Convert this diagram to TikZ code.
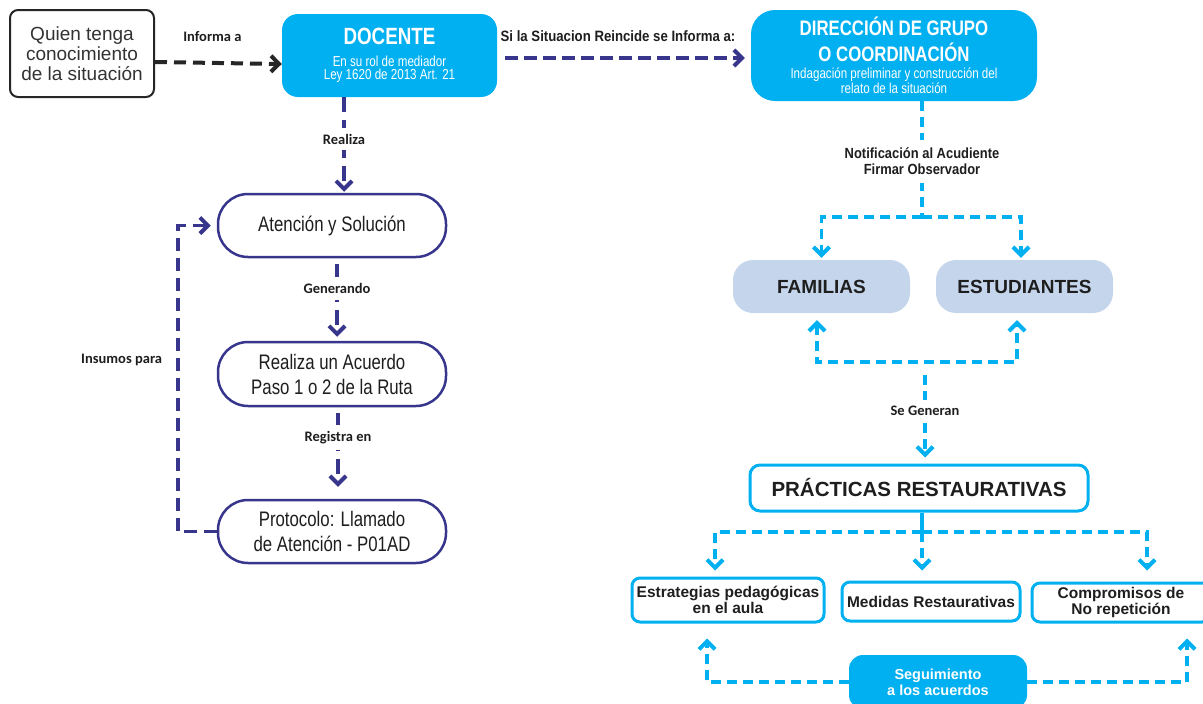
\documentclass[tikz,border=0pt]{standalone}
\usepackage{fontspec}
\setmainfont{Liberation Sans}
\newfontfamily\nar[FakeStretch=0.8]{Liberation Sans}
\newfontfamily\nlab[FakeStretch=0.88]{Liberation Sans}
\newfontfamily\carl{Carlito}
\usetikzlibrary{arrows.meta,calc}
\definecolor{cy}{RGB}{0,176,240}
\definecolor{ind}{RGB}{55,53,140}
\definecolor{lb}{RGB}{197,214,236}
\definecolor{tx}{RGB}{30,30,30}
\begin{document}
\begin{tikzpicture}[x=1pt,y=-1pt,
  tip/.style={-{Straight Barb[length=8pt,width=16pt,line width=4pt]}},
  tips/.style={{Straight Barb[length=8pt,width=16pt,line width=4pt]}-{Straight Barb[length=8pt,width=16pt,line width=4pt]}},
  kline/.style={draw=black!85,line width=4pt,dash pattern=on 12pt off 7pt,tip},
  iline/.style={draw=ind,line width=3.5pt,dash pattern=on 13pt off 6pt,tip},
  ivline/.style={draw=ind,line width=3.5pt,dash pattern=on 15pt off 8pt,tip},
  cline/.style={draw=cy,line width=3.5pt,dash pattern=on 10pt off 6pt},
  lab/.style={font=\carl\bfseries\fontsize{14.5}{15}\selectfont,text=tx,fill=white,inner xsep=2pt,inner ysep=6pt},
  nlabel/.style={font=\nlab\bfseries\fontsize{14.7}{16}\selectfont,text=tx,fill=white,inner xsep=2pt,inner ysep=8pt,align=center},
  qbox/.style={draw=black!85,line width=2pt,rounded corners=8pt,fill=white,inner sep=0pt,align=center,text=black!80,font=\fontsize{19}{20}\selectfont},
  cbox/.style={fill=cy,draw=none,text=white,align=center,inner sep=0pt,font=\nar\fontsize{14.5}{13}\selectfont},
  ibox/.style={draw=ind,line width=2.5pt,fill=white,rounded corners=30pt,minimum width=228pt,minimum height=63pt,inner sep=0pt,align=center,text=tx,font=\nar\fontsize{21}{25}\selectfont},
  lbbox/.style={fill=lb,draw=none,rounded corners=20pt,minimum width=177pt,minimum height=53pt,inner sep=0pt,text=tx,font=\bfseries\fontsize{19}{20}\selectfont},
  wbox/.style={draw=cy,line width=3pt,fill=white,rounded corners=8pt,inner sep=0pt,align=center,text=tx,font=\bfseries\fontsize{15.5}{15.5}\selectfont}
]
\lineskiplimit=-100pt
\useasboundingbox (0,0) rectangle (1203,704);
% left column
\node[qbox,minimum width=144pt,minimum height=87pt] (quien) at (82,53.5) {Quien tenga\\conocimiento\\de la situación};
\node[cbox,minimum width=215pt,minimum height=83pt,rounded corners=16pt] (doc) at (389.5,55.5)
  {{\fontsize{23.5}{23}\selectfont\bfseries DOCENTE}\\[9pt]En su rol de mediador\\Ley 1620 de 2013 Art. 21};
\node[cbox,minimum width=286pt,minimum height=91pt,rounded corners=24pt,font=\nar\fontsize{14.5}{15}\selectfont] (dir) at (894,55.5)
  {{\fontsize{21}{21}\selectfont\bfseries DIRECCIÓN DE GRUPO}\\[11pt]{\fontsize{21}{21}\selectfont\bfseries O COORDINACIÓN}\\[2.5pt]Indagación preliminar y construcción del\\relato de la situación};
\node[ibox] (aten) at (332,225.5) {Atención y Solución};
\node[ibox,minimum height=64pt] (real) at (332,374) {Realiza un Acuerdo\\Paso 1 o 2 de la Ruta};
\node[ibox] (prot) at (332,531.5) {Protocolo: Llamado\\de Atención - P01AD};
% right column
\node[lbbox] (fam) at (821.5,286.5) {FAMILIAS};
\node[lbbox] (est) at (1024.5,286.5) {ESTUDIANTES};
\node[wbox,rounded corners=10pt,minimum width=338pt,minimum height=46pt,font=\bfseries\fontsize{20.5}{21}\selectfont] (prac) at (919,488) {PRÁCTICAS RESTAURATIVAS};
\node[wbox,minimum width=192pt,minimum height=44pt] (estr) at (728,600) {Estrategias pedagógicas\\en el aula};
\node[wbox,minimum width=178pt,minimum height=39pt] (med) at (931,601.5) {Medidas Restaurativas};
\node[wbox,minimum width=178pt,minimum height=39pt] (comp) at (1121,602.5) {Compromisos de\\No repetición};
\node[cbox,minimum width=178pt,minimum height=54pt,rounded corners=14pt,font=\bfseries\fontsize{14.5}{16}\selectfont] (seg) at (938,682) {Seguimiento\\a los acuerdos};
% top connectors
\draw[kline] ([yshift=-8.5pt]quien.east) -- ([yshift=-8.5pt]doc.west)
  node[lab,fill=none,midway,xshift=-6pt,yshift=26pt] {Informa a};
\draw[iline,shorten <=8pt,shorten >=6pt] ([yshift=-2.5pt]doc.east) -- ([yshift=-2.5pt]dir.west)
  node[nlabel,fill=none,midway,xshift=-6pt,yshift=22pt,font=\nlab\bfseries\fontsize{15}{16}\selectfont] {Si la Situacion Reincide se Informa a:};
% left vertical flow
\coordinate (c1) at ([xshift=12pt]aten.north);
\draw[ivline,shorten >=1pt] (c1 |- doc.south) -- (c1) node[lab,pos=0.44] {Realiza};
\coordinate (c2) at ([xshift=5pt]aten.south);
\draw[ivline,shorten <=6pt,shorten >=4pt] (c2) -- (c2 |- real.north) node[lab,pos=0.365] {Generando};
\coordinate (c3) at ([xshift=6pt]real.south);
\draw[ivline,shorten <=6pt,shorten >=12pt] (c3) -- (c3 |- prot.north) node[lab,pos=0.33] {Registra en};
\draw[iline,dash pattern=on 13pt off 7pt,shorten >=6pt] (prot.west) -- ++(-39,0) |- (aten.west)
  node[lab,fill=none,pos=0.28,anchor=east,xshift=-12pt] {Insumos para};
% right tree
\coordinate (j1) at (922,217);
\draw[cline] (j1 |- dir.south) -- (j1) node[nlabel,pos=0.52] {Notificación al Acudiente\\Firmar Observador};
\draw[cline,tip,shorten >=2pt] (j1) -| (fam.north);
\draw[cline,tip,shorten >=2pt] (j1) -| ([xshift=-3.5pt]est.north);
\draw[cline,tips,shorten <=7pt,shorten >=7pt] ([xshift=-4.5pt]fam.south) -- ++(0,49) -| ([xshift=-7.5pt]est.south);
\coordinate (sg) at (925,375);
\draw[cline,tip,shorten >=6pt] (sg) -- (sg |- prac.north) node[lab,pos=0.4] {Se Generan};
\coordinate (j3) at (922,532);
\draw[cy,line width=3.5pt] (prac.south -| j3) -- (j3);
\draw[cline,tip,shorten >=6pt] (j3) -| ([xshift=-13pt]estr.north);
\draw[cline,tip,shorten >=10pt] (j3) -- (j3 |- med.north);
\draw[cline,tip,shorten >=11pt] (j3) -| ([xshift=26pt]comp.north);
\draw[cline,tip,shorten >=15pt] (seg.west) -| ([xshift=-21pt]estr.south);
\draw[cline,tip,shorten >=15pt] (seg.east) -| ([xshift=66pt]comp.south);
\end{tikzpicture}
\end{document}
